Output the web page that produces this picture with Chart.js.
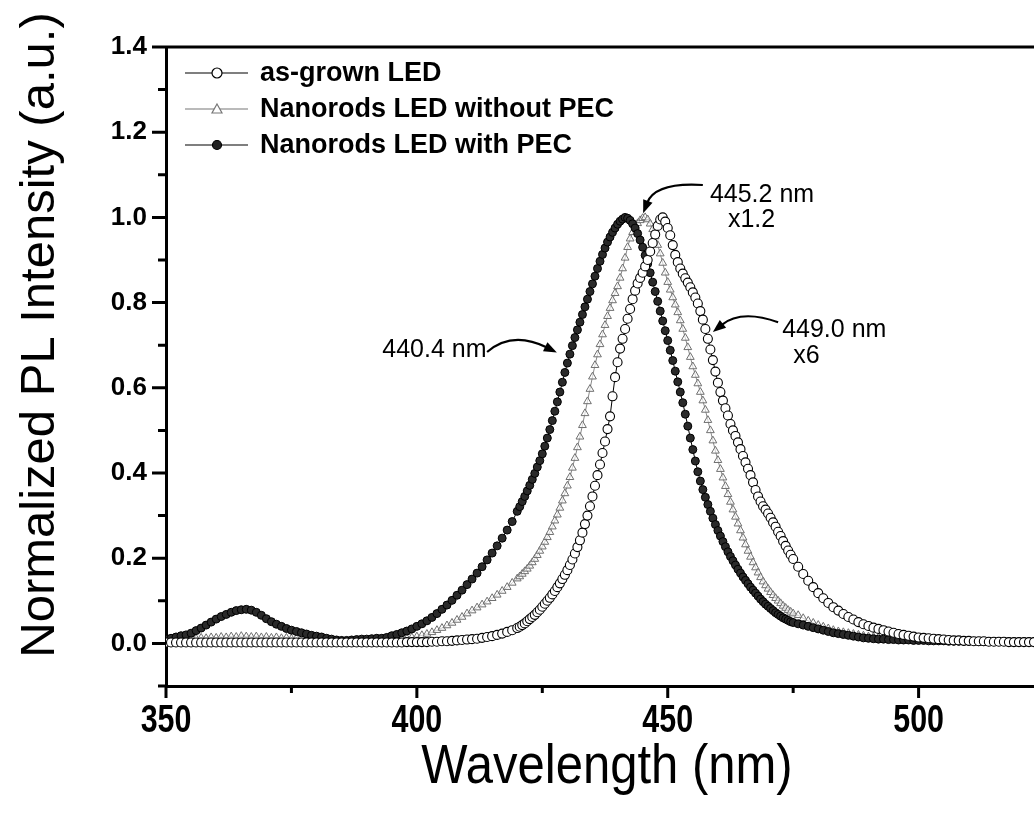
<!DOCTYPE html>
<html>
<head>
<meta charset="utf-8">
<script src="https://cdn.jsdelivr.net/npm/chart.js@4/dist/chart.umd.min.js"></script>
<style>
  html, body { margin: 0; padding: 0; background: #fff; }
  #wrap { width: 1034px; height: 821px; }
</style>
</head>
<body>
<div id="wrap"><canvas id="plCanvas" width="1034" height="821"></canvas></div>
<script>
// wavelength grid (nm): 1 nm in the tails, 0.5 nm over the peaks
const wavelength = [
  350,351,352,353,354,355,356,357,358,359,
  360,361,362,363,364,365,366,367,368,369,
  370,371,372,373,374,375,376,377,378,379,
  380,381,382,383,384,385,386,387,388,389,
  390,391,392,393,394,395,396,397,398,399,
  400,401,402,403,404,405,406,407,408,409,
  410,411,412,413,414,415,416,417,418,419,
  420,420.5,421,421.5,422,422.5,423,423.5,424,424.5,
  425,425.5,426,426.5,427,427.5,428,428.5,429,429.5,
  430,430.5,431,431.5,432,432.5,433,433.5,434,434.5,
  435,435.5,436,436.5,437,437.5,438,438.5,439,439.5,
  440,440.5,441,441.5,442,442.5,443,443.5,444,444.5,
  445,445.5,446,446.5,447,447.5,448,448.5,449,449.5,
  450,450.5,451,451.5,452,452.5,453,453.5,454,454.5,
  455,455.5,456,456.5,457,457.5,458,458.5,459,459.5,
  460,460.5,461,461.5,462,462.5,463,463.5,464,464.5,
  465,465.5,466,466.5,467,467.5,468,468.5,469,469.5,
  470,470.5,471,471.5,472,472.5,473,473.5,474,474.5,
  475,
  476,477,478,479,480,481,482,483,484,485,
  486,487,488,489,490,491,492,493,494,495,
  496,497,498,499,500,501,502,503,504,505,
  506,507,508,509,510,511,512,513,514,515,
  516,517,518,519,520,521,522,523
];

// as-grown LED (peak 449.0 nm)
const asGrown = [
  0.002,0.002,0.002,0.002,0.002,0.002,0.002,0.002,0.002,0.002,
  0.002,0.002,0.002,0.002,0.002,0.002,0.002,0.002,0.002,0.002,
  0.002,0.002,0.002,0.002,0.002,0.002,0.002,0.002,0.002,0.002,
  0.002,0.002,0.002,0.002,0.002,0.002,0.002,0.002,0.002,0.002,
  0.002,0.002,0.002,0.002,0.002,0.002,0.002,0.002,0.003,0.003,
  0.003,0.003,0.003,0.004,0.004,0.005,0.005,0.006,0.007,0.008,
  0.009,0.010,0.011,0.013,0.015,0.017,0.020,0.023,0.027,0.031,
  0.036,0.039,0.043,0.047,0.052,0.057,0.062,0.067,0.073,0.079,
  0.086,0.093,0.100,0.107,0.115,0.123,0.132,0.141,0.151,0.161,
  0.172,0.184,0.197,0.211,0.226,0.242,0.260,0.280,0.300,0.322,
  0.345,0.370,0.395,0.420,0.447,0.474,0.503,0.533,0.580,0.625,
  0.660,0.692,0.715,0.738,0.762,0.785,0.808,0.828,0.845,0.858,
  0.870,0.885,0.900,0.920,0.940,0.960,0.980,0.995,1.000,0.990,
  0.975,0.958,0.935,0.912,0.895,0.880,0.868,0.857,0.847,0.836,
  0.824,0.812,0.798,0.780,0.760,0.738,0.715,0.690,0.665,0.638,
  0.612,0.590,0.570,0.552,0.535,0.515,0.500,0.487,0.472,0.456,
  0.440,0.425,0.410,0.395,0.378,0.360,0.345,0.333,0.322,0.314,
  0.305,0.295,0.284,0.274,0.262,0.252,0.240,0.229,0.218,0.208,
  0.198,
  0.180,0.163,0.147,0.132,0.118,0.106,0.095,0.085,0.077,0.069,
  0.062,0.056,0.050,0.045,0.041,0.037,0.034,0.031,0.028,0.025,
  0.022,0.020,0.018,0.016,0.014,0.013,0.012,0.011,0.010,0.009,
  0.008,0.007,0.007,0.006,0.006,0.005,0.005,0.005,0.004,0.004,
  0.004,0.004,0.003,0.003,0.003,0.003,0.003,0.003
];

// nanorods LED without PEC (peak 445.2 nm, x1.2)
const noPEC = [
  0.008,0.010,0.009,0.011,0.010,0.012,0.011,0.013,0.012,0.014,
  0.013,0.015,0.014,0.016,0.015,0.017,0.016,0.015,0.016,0.014,
  0.015,0.013,0.014,0.012,0.013,0.011,0.012,0.010,0.010,0.009,
  0.009,0.008,0.008,0.007,0.006,0.006,0.005,0.005,0.004,0.004,
  0.004,0.004,0.005,0.005,0.006,0.007,0.008,0.010,0.012,0.014,
  0.016,0.019,0.022,0.026,0.031,0.036,0.042,0.048,0.055,0.062,
  0.070,0.077,0.084,0.091,0.098,0.106,0.114,0.123,0.132,0.142,
  0.152,0.157,0.163,0.169,0.175,0.182,0.190,0.198,0.207,0.217,
  0.227,0.238,0.249,0.261,0.274,0.288,0.302,0.318,0.335,0.352,
  0.370,0.390,0.412,0.435,0.460,0.485,0.512,0.540,0.568,0.597,
  0.626,0.653,0.678,0.702,0.725,0.747,0.768,0.787,0.805,0.822,
  0.838,0.858,0.880,0.905,0.930,0.950,0.965,0.977,0.986,0.993,
  0.998,1.000,0.995,0.985,0.972,0.955,0.935,0.915,0.893,0.870,
  0.848,0.830,0.812,0.795,0.777,0.758,0.738,0.717,0.695,0.672,
  0.650,0.630,0.610,0.590,0.570,0.548,0.524,0.500,0.476,0.452,
  0.430,0.409,0.389,0.369,0.350,0.332,0.314,0.297,0.281,0.265,
  0.248,0.232,0.217,0.203,0.190,0.178,0.166,0.155,0.145,0.136,
  0.128,0.120,0.113,0.106,0.100,0.094,0.088,0.083,0.078,0.074,
  0.070,
  0.066,0.059,0.053,0.048,0.043,0.039,0.035,0.031,0.028,0.026,
  0.024,0.022,0.020,0.018,0.016,0.015,0.014,0.013,0.012,0.011,
  0.010,0.009,0.009,0.008,0.008,0.007,0.007,0.006,0.006,0.006,
  0.005,0.005,0.005,0.005,0.004,0.004,0.004,0.004,0.004,0.004,
  0.003,0.003,0.003,0.003,0.003,0.003,0.003,0.003
];

// nanorods LED with PEC (peak 440.4 nm, x6)
const withPEC = [
  0.010,0.012,0.015,0.018,0.020,0.024,0.030,0.036,0.043,0.050,
  0.057,0.063,0.068,0.073,0.077,0.079,0.080,0.078,0.073,0.066,
  0.058,0.051,0.045,0.040,0.035,0.031,0.028,0.025,0.022,0.019,
  0.017,0.015,0.012,0.010,0.008,0.007,0.007,0.008,0.009,0.010,
  0.010,0.011,0.012,0.012,0.014,0.018,0.021,0.025,0.029,0.034,
  0.040,0.046,0.053,0.061,0.070,0.080,0.090,0.101,0.113,0.125,
  0.138,0.151,0.165,0.180,0.196,0.212,0.229,0.247,0.266,0.286,
  0.310,0.321,0.333,0.345,0.358,0.371,0.385,0.399,0.414,0.429,
  0.445,0.463,0.482,0.502,0.523,0.545,0.567,0.590,0.613,0.636,
  0.658,0.679,0.699,0.718,0.736,0.754,0.772,0.790,0.808,0.826,
  0.844,0.862,0.880,0.897,0.913,0.928,0.942,0.954,0.965,0.975,
  0.984,0.991,0.996,1.000,0.998,0.993,0.985,0.975,0.962,0.947,
  0.930,0.911,0.891,0.870,0.848,0.826,0.803,0.780,0.757,0.734,
  0.711,0.688,0.664,0.639,0.614,0.590,0.565,0.538,0.510,0.482,
  0.455,0.428,0.403,0.381,0.361,0.343,0.326,0.310,0.294,0.279,
  0.265,0.252,0.239,0.227,0.215,0.204,0.194,0.184,0.174,0.165,
  0.156,0.148,0.140,0.132,0.125,0.118,0.111,0.104,0.098,0.092,
  0.087,0.082,0.077,0.072,0.068,0.064,0.060,0.057,0.054,0.051,
  0.049,
  0.046,0.043,0.040,0.037,0.034,0.031,0.028,0.025,0.023,0.021,
  0.019,0.017,0.015,0.013,0.012,0.011,0.010,0.010,0.009,0.009,
  0.008,0.008,0.008,0.007,0.007,0.007,0.006,0.006,0.006,0.006,
  0.005,0.005,0.005,0.005,0.005,0.005,0.004,0.004,0.004,0.004,
  0.004,0.004,0.004,0.004,0.004,0.004,0.004,0.004
];

const seriesNames = ['as-grown LED', 'Nanorods LED without PEC', 'Nanorods LED with PEC'];
const xMajor = [350, 400, 450, 500];
const xMinor = [375, 425, 475];
const yMajor = [0.0, 0.2, 0.4, 0.6, 0.8, 1.0, 1.2, 1.4];
const yMinor = [-0.1, 0.1, 0.3, 0.5, 0.7, 0.9, 1.1, 1.3];

const FONT = "'Liberation Sans', Arial, sans-serif";

function pts(values) {
    return wavelength.map((w, i) => ({ x: w, y: values[i] }));
}

// frame: top line, tick marks and the narrow x tick labels
const frameTicks = {
    id: 'frameTicks',
    afterDraw(chart) {
        const { ctx, chartArea: a, scales: { x, y } } = chart;
        ctx.save();
        ctx.strokeStyle = '#000';
        ctx.lineWidth = 3;
        ctx.beginPath();
        ctx.moveTo(a.left - 14, a.top);
        ctx.lineTo(a.right, a.top);
        yMajor.forEach(v => { const p = y.getPixelForValue(v); ctx.moveTo(a.left - 14, p); ctx.lineTo(a.left, p); });
        yMinor.forEach(v => { const p = y.getPixelForValue(v); ctx.moveTo(a.left - 8, p); ctx.lineTo(a.left, p); });
        xMajor.forEach(v => { const p = x.getPixelForValue(v); ctx.moveTo(p, a.bottom); ctx.lineTo(p, a.bottom + 12); });
        xMinor.forEach(v => { const p = x.getPixelForValue(v); ctx.moveTo(p, a.bottom); ctx.lineTo(p, a.bottom + 7); });
        ctx.stroke();

        ctx.fillStyle = '#000';
        ctx.font = 'bold 38px ' + FONT;
        ctx.textAlign = 'center';
        ctx.textBaseline = 'middle';
        xMajor.forEach(v => {
            ctx.save();
            ctx.translate(x.getPixelForValue(v), a.bottom + 36);
            ctx.scale(0.8, 1);
            ctx.fillText(String(v), 0, 0);
            ctx.restore();
        });
        ctx.restore();
    }
};

function marker(ctx, kind, cx, cy) {
    ctx.beginPath();
    if (kind === 'tri') {
        ctx.moveTo(cx, cy - 5);
        ctx.lineTo(cx + 5, cy + 4);
        ctx.lineTo(cx - 5, cy + 4);
        ctx.closePath();
        ctx.fillStyle = '#fff';
        ctx.strokeStyle = '#777';
    } else if (kind === 'dot') {
        ctx.arc(cx, cy, 4.5, 0, Math.PI * 2);
        ctx.fillStyle = '#222';
        ctx.strokeStyle = '#000';
    } else {
        ctx.arc(cx, cy, 5, 0, Math.PI * 2);
        ctx.fillStyle = '#fff';
        ctx.strokeStyle = '#000';
    }
    ctx.lineWidth = 1.2;
    ctx.fill();
    ctx.stroke();
}

function arrow(ctx, x, y, p0, c, tip) {
    const P0 = [x.getPixelForValue(p0[0]), y.getPixelForValue(p0[1])];
    const C = [x.getPixelForValue(c[0]), y.getPixelForValue(c[1])];
    const T = [x.getPixelForValue(tip[0]), y.getPixelForValue(tip[1])];
    const ang = Math.atan2(T[1] - C[1], T[0] - C[0]);
    const back = [T[0] - 11 * Math.cos(ang), T[1] - 11 * Math.sin(ang)];
    ctx.beginPath();
    ctx.moveTo(P0[0], P0[1]);
    ctx.quadraticCurveTo(C[0], C[1], back[0], back[1]);
    ctx.lineWidth = 2.2;
    ctx.strokeStyle = '#000';
    ctx.stroke();
    ctx.beginPath();
    ctx.moveTo(T[0], T[1]);
    ctx.lineTo(T[0] - 13 * Math.cos(ang) + 5 * Math.sin(ang), T[1] - 13 * Math.sin(ang) - 5 * Math.cos(ang));
    ctx.lineTo(T[0] - 13 * Math.cos(ang) - 5 * Math.sin(ang), T[1] - 13 * Math.sin(ang) + 5 * Math.cos(ang));
    ctx.closePath();
    ctx.fillStyle = '#000';
    ctx.fill();
}

const decorations = {
    id: 'decorations',
    afterDraw(chart) {
        const { ctx, chartArea: a, scales: { x, y } } = chart;
        ctx.save();

        // legend
        const kinds = ['open', 'tri', 'dot'];
        ctx.textBaseline = 'middle';
        ctx.textAlign = 'left';
        seriesNames.forEach((name, i) => {
            const ly = a.top + 26 + i * 36;
            ctx.beginPath();
            ctx.moveTo(a.left + 19, ly);
            ctx.lineTo(a.left + 82, ly);
            ctx.lineWidth = 1.2;
            ctx.strokeStyle = i === 1 ? '#777' : '#000';
            ctx.stroke();
            marker(ctx, kinds[i], a.left + 51, ly);
            ctx.fillStyle = '#000';
            ctx.font = 'bold 27px ' + FONT;
            ctx.fillText(name, a.left + 94, ly + 1);
        });

        // peak annotations
        ctx.font = '25px ' + FONT;
        ctx.fillStyle = '#000';
        ctx.textBaseline = 'alphabetic';
        ctx.fillText('445.2 nm', x.getPixelForValue(458.4), y.getPixelForValue(1.036));
        ctx.fillText('x1.2', x.getPixelForValue(462.0), y.getPixelForValue(0.977));
        ctx.fillText('449.0 nm', x.getPixelForValue(472.8), y.getPixelForValue(0.719));
        ctx.fillText('x6', x.getPixelForValue(475.0), y.getPixelForValue(0.658));
        ctx.fillText('440.4 nm', x.getPixelForValue(393.1), y.getPixelForValue(0.672));
        arrow(ctx, x, y, [414.0, 0.684], [419.0, 0.735], [427.9, 0.683]);
        arrow(ctx, x, y, [457.0, 1.076], [447.5, 1.083], [445.1, 1.010]);
        arrow(ctx, x, y, [472.0, 0.754], [464.6, 0.785], [459.0, 0.731]);

        // axis titles
        ctx.textAlign = 'center';
        ctx.textBaseline = 'middle';
        ctx.save();
        ctx.font = '56px ' + FONT;
        ctx.translate((a.left + a.right) / 2 + 7, 768);
        ctx.scale(0.875, 1);
        ctx.fillText('Wavelength (nm)', 0, 0);
        ctx.restore();
        ctx.font = '49px ' + FONT;
        ctx.translate(40, 335);
        ctx.rotate(-Math.PI / 2);
        ctx.fillText('Normalized PL Intensity (a.u.)', 0, 0);
        ctx.restore();
    }
};

const canvas = document.getElementById('plCanvas');
new Chart(canvas, {
    type: 'line',
    data: {
        datasets: [
            {
                label: seriesNames[0],
                data: pts(asGrown),
                order: 0,
                borderColor: '#000',
                borderWidth: 1,
                pointStyle: 'circle',
                pointRadius: 4.5,
                pointBorderWidth: 1.1,
                pointBorderColor: '#000',
                pointBackgroundColor: '#fff'
            },
            {
                label: seriesNames[1],
                data: pts(noPEC),
                order: 2,
                borderColor: '#888',
                borderWidth: 1,
                pointStyle: 'triangle',
                pointRadius: 4.5,
                pointBorderWidth: 1,
                pointBorderColor: '#6f6f6f',
                pointBackgroundColor: 'rgba(255,255,255,0.6)'
            },
            {
                label: seriesNames[2],
                data: pts(withPEC),
                order: 1,
                borderColor: '#000',
                borderWidth: 1,
                pointStyle: 'circle',
                pointRadius: 4,
                pointBorderWidth: 1,
                pointBorderColor: '#000',
                pointBackgroundColor: '#2a2a2a'
            }
        ]
    },
    options: {
        responsive: false,
        animation: false,
        layout: { autoPadding: false, padding: { top: 47, right: 0, left: 0, bottom: 0 } },
        scales: {
            x: {
                type: 'linear',
                min: 350,
                max: 523,
                afterFit: s => { s.height = 135; },
                afterBuildTicks: s => { s.ticks = xMajor.map(v => ({ value: v })); },
                grid: { display: false, drawTicks: false },
                border: { display: true, width: 3, color: '#000' },
                ticks: { display: false }
            },
            y: {
                min: -0.1,
                max: 1.4,
                afterFit: s => { s.width = 166; },
                afterBuildTicks: s => { s.ticks = yMajor.map(v => ({ value: v })); },
                grid: { display: false, drawTicks: false },
                border: { display: true, width: 3, color: '#000' },
                ticks: {
                    padding: 19,
                    color: '#000',
                    callback: v => v.toFixed(1),
                    font: { family: FONT, size: 26, weight: 'bold' }
                }
            }
        },
        plugins: {
            legend: { display: false },
            tooltip: { enabled: false }
        }
    },
    plugins: [frameTicks, decorations]
});
</script>
</body>
</html>
